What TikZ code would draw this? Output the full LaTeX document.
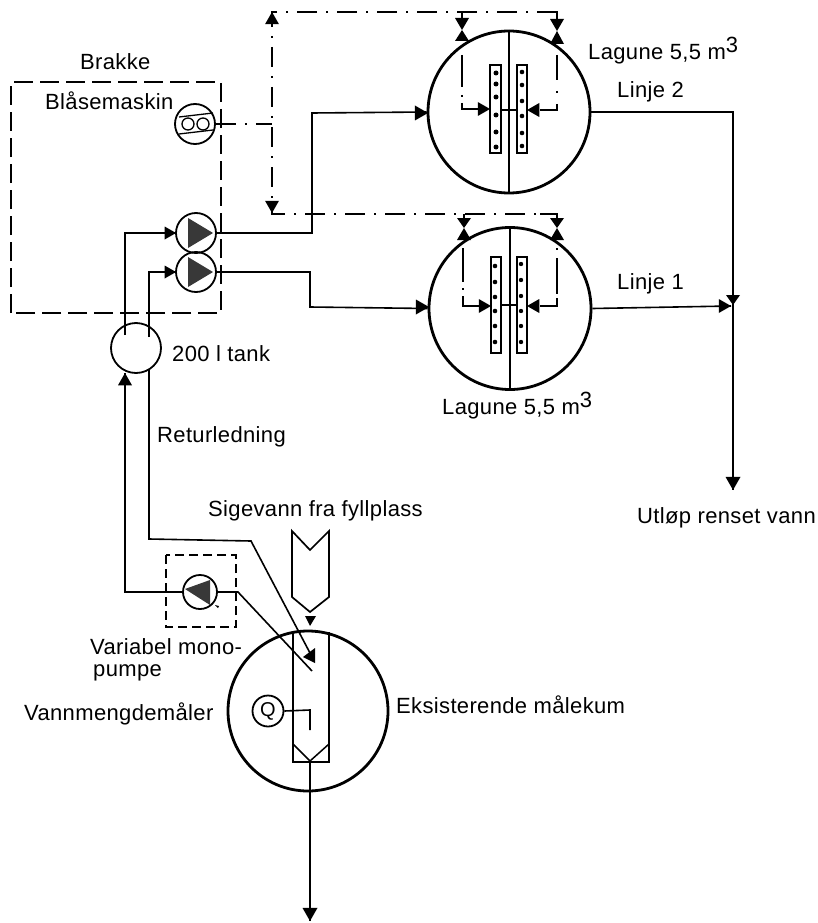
\documentclass[tikz,border=0pt]{standalone}
\usepackage{fontspec}
\setmainfont{Liberation Sans}[LetterSpace=1.6]
\tikzset{
 x=1pt,y=-1pt,
 pipe/.style={line width=1.6pt,line join=miter},
 thin pipe/.style={line width=1.4pt},
 ring/.style={circle,draw,line width=2.8pt,inner sep=0pt,fill=none},
 midring/.style={circle,draw,line width=1.8pt,inner sep=0pt,fill=none},
 air/.style={line width=1.6pt,dash pattern=on 20pt off 9pt on 2pt off 9pt},
 boxdash/.style={line width=2.4pt,dash pattern=on 19pt off 7pt},
 smalldash/.style={line width=1.4pt,dash pattern=on 9pt off 5pt},
 lbl/.style={inner sep=0pt,anchor=base west,font=\fontsize{22}{24}\selectfont},
}
\newcommand{\tup}[3]{\fill (#1-#3,#2+#3*1.75) -- (#1+#3,#2+#3*1.75) -- (#1,#2) -- cycle;}
\newcommand{\tdn}[3]{\fill (#1-#3,#2-#3*1.75) -- (#1+#3,#2-#3*1.75) -- (#1,#2) -- cycle;}
\newcommand{\trt}[3]{\fill (#1-#3*1.75,#2-#3) -- (#1-#3*1.75,#2+#3) -- (#1,#2) -- cycle;}
\newcommand{\tlf}[3]{\fill (#1+#3*1.75,#2-#3) -- (#1+#3*1.75,#2+#3) -- (#1,#2) -- cycle;}
\newcommand{\valve}[4]{\fill (#1-7,#2) -- (#1+7,#2) -- (#1,#3) -- cycle; \fill (#1-7,#4) -- (#1+7,#4) -- (#1,#3) -- cycle;}
\newcommand{\cubed}{\raisebox{7pt}{3}}
\begin{document}
\begin{tikzpicture}
\useasboundingbox (0,0) rectangle (818,923);
% lagoons
\node[ring,minimum size=162pt] (L2) at (509,112) {};
\node[ring,minimum size=162pt] (L1) at (510,308.5) {};
\draw[thin pipe] (L2.north) -- (L2.south);
\draw[thin pipe] (L1.north) -- (L1.south);
% upper lagoon interior
\draw[line width=1.5pt] (490,65) rectangle (501,153);
\draw[line width=1.5pt] (517,65) rectangle (527,153);
\draw[line width=1.3pt] (501,110) -- (517,110);
\foreach \dy in {73,84,97,115,132,147} \fill (496,\dy) circle (2.5pt);
\foreach \dy in {72,85,101,116,133,146} \fill (522,\dy) circle (2.3pt);
\draw[line width=1.6pt] (462,55) -- (462,87) (462,95) -- (462,97) (462,103) -- (462,109) -- (480,109);
\draw[line width=1.6pt] (557,55) -- (557,80) (557,91) -- (557,93) (557,104) -- (557,110) -- (540,110);
\trt{490}{109}{7}
\tlf{527}{110}{7}
% lower lagoon interior
\draw[line width=1.5pt] (491,257) rectangle (501,353);
\draw[line width=1.5pt] (517,257) rectangle (527,353);
\draw[line width=1.3pt] (501,305) -- (517,305);
\foreach \dy in {266,282,297,311,326,342} \fill (495,\dy) circle (2.3pt);
\foreach \dy in {264,280,296,311,326,342} \fill (521,\dy) circle (2.2pt);
\draw[line width=1.6pt] (463,248) -- (463,282) (463,288) -- (463,290) (463,296) -- (463,306) -- (480,306);
\draw[line width=1.6pt] (557,248) -- (557,250) (557,258) -- (557,294) (557,298) -- (557,306) -- (540,306);
\trt{491}{306}{7}
\tlf{527}{306}{7}
% valves
\valve{462}{18}{30}{41}
\valve{557}{19}{31}{44}
\valve{464}{218}{228}{240}
\valve{557}{218}{228}{240}
% air network
\coordinate (atl) at (272,12);
\coordinate (atr) at (557,12);
\coordinate (abl) at (272,214);
\coordinate (abr) at (557,214);
\draw[air] (atr) -- (atl) -- (abl) -- (abr);
\draw[line width=1.6pt] (540,12) -- (557,12) -- (557,19);
\draw[line width=1.6pt] (462,12) -- (462,18) (464,214) -- (464,218) (540,214) -- (557,214) -- (557,218);
\tup{272}{12}{7}
\tdn{272}{213}{7}
% Brakke
\draw[boxdash] (11,313) -- (11,82) -- (221,82) -- (221,313) -- cycle;
% blower
\node[midring,minimum size=40pt] (B) at (195,124) {};
\draw[line width=1.3pt] (188,124) circle (6pt) (203,124) circle (6pt);
\draw[line width=1.3pt] (179,117) -- (213,113) (179,134) -- (213,130);
\coordinate (Bj) at (272,124);
\draw[air] (B.east) -- (Bj);
% pumps
\node[midring,minimum size=40pt] (P2) at (196,233) {};
\node[midring,minimum size=40pt] (P1) at (196,272) {};
\fill[black!78] (188,218) -- (213,233) -- (188,248) -- cycle;
\fill[black!78] (188,257) -- (213,272) -- (188,287) -- cycle;
% tank
\node[midring,minimum size=50pt] (T) at (136,348) {};
\coordinate (a1) at (125,335);
\coordinate (a2) at (149,337);
\draw[pipe] (a1) -- (125,233) -- (P2.west);
\draw[pipe] (a2) -- (149,272) -- (P1.west);
\trt{176}{233}{6.5}
\trt{176}{272}{6.5}
\draw[pipe] (P2.east) -- (312,233) -- (312,113) -- (L2.west);
\draw[pipe] (P1.east) -- (310,272) -- (310,307) -- (L1.west);
\trt{428}{113}{7.5}
\trt{429}{307}{7.5}
% outlet
\coordinate (outEnd) at (733,490);
\draw[pipe] (L2.east) -- (733,112) -- (outEnd);
\draw[pipe] (L1.east) -- (731,306);
\trt{731}{306}{7}
\fill (726,295) -- (740,295) -- (733,305) -- cycle;
\tdn{733}{490}{7.5}
% mono pump
\draw[smalldash] (166,555) rectangle (236,627);
\node[midring,minimum size=34pt] (M) at (200,592) {};
\fill[black!78] (185,589) -- (210,580) -- (210,605) -- cycle;
\fill (215,605) -- (219,606) -- (218,608) -- cycle;
\coordinate (m1) at (125,373);
\draw[pipe] (m1) -- (125,592) -- (M.west);
\tup{125}{373}{7}
\draw[pipe] (M.east) -- (238,592) -- (312,671);
\coordinate (r1) at (149,370);
\draw[pipe] (r1) -- (149,539) -- (251,541) -- (310,653);
\fill (303,657) -- (315,648) -- (315,663) -- cycle;
% sump
\node[ring,minimum size=160pt] (S) at (308,711) {};
\draw[line width=1.7pt] (293,632) -- (293,762) -- (329,762) -- (329,632);
\draw[line width=1.5pt] (293,744) -- (310,761) -- (329,744);
\draw[line width=1.7pt] (292,531) -- (310,550) -- (329,531) -- (329,597) -- (310,612) -- (292,597) -- cycle;
\fill (305,616) -- (316,616) -- (310,626) -- cycle;
\node[midring,minimum size=31pt,font=\fontsize{20}{22}\selectfont] (Q) at (268,711) {Q};
\draw[pipe] (Q.east) -- (310,710) -- (310,730);
\coordinate (d) at (310,921);
\draw[pipe] (310,761) -- (d);
\tdn{310}{921}{7.5}
% labels
\node[lbl] (t1) at (80,70) {Brakke};
\node[lbl] (t2) at (45,110) {Blåsemaskin};
\node[lbl] (t3) at (172,361) {200 l tank};
\node[lbl] (t4) at (157,442) {Returledning};
\node[lbl] (t5) at (208,516) {Sigevann fra fyllplass};
\node[lbl] (t6) at (90,654) {Variabel mono-};
\node[lbl] (t7) at (93,676) {pumpe};
\node[lbl] (t8) at (24,720) {Vannmengdemåler};
\node[lbl] (t9) at (396,713) {Eksisterende målekum};
\node[lbl] (t10) at (588,60) {Lagune 5,5 m\cubed};
\node[lbl] (t11) at (617,98) {Linje 2};
\node[lbl] (t12) at (617,289) {Linje 1};
\node[lbl] (t13) at (442,414) {Lagune 5,5 m\cubed};
\node[lbl] (t14) at (637,523) {Utløp renset vann};
\end{tikzpicture}
\end{document}
